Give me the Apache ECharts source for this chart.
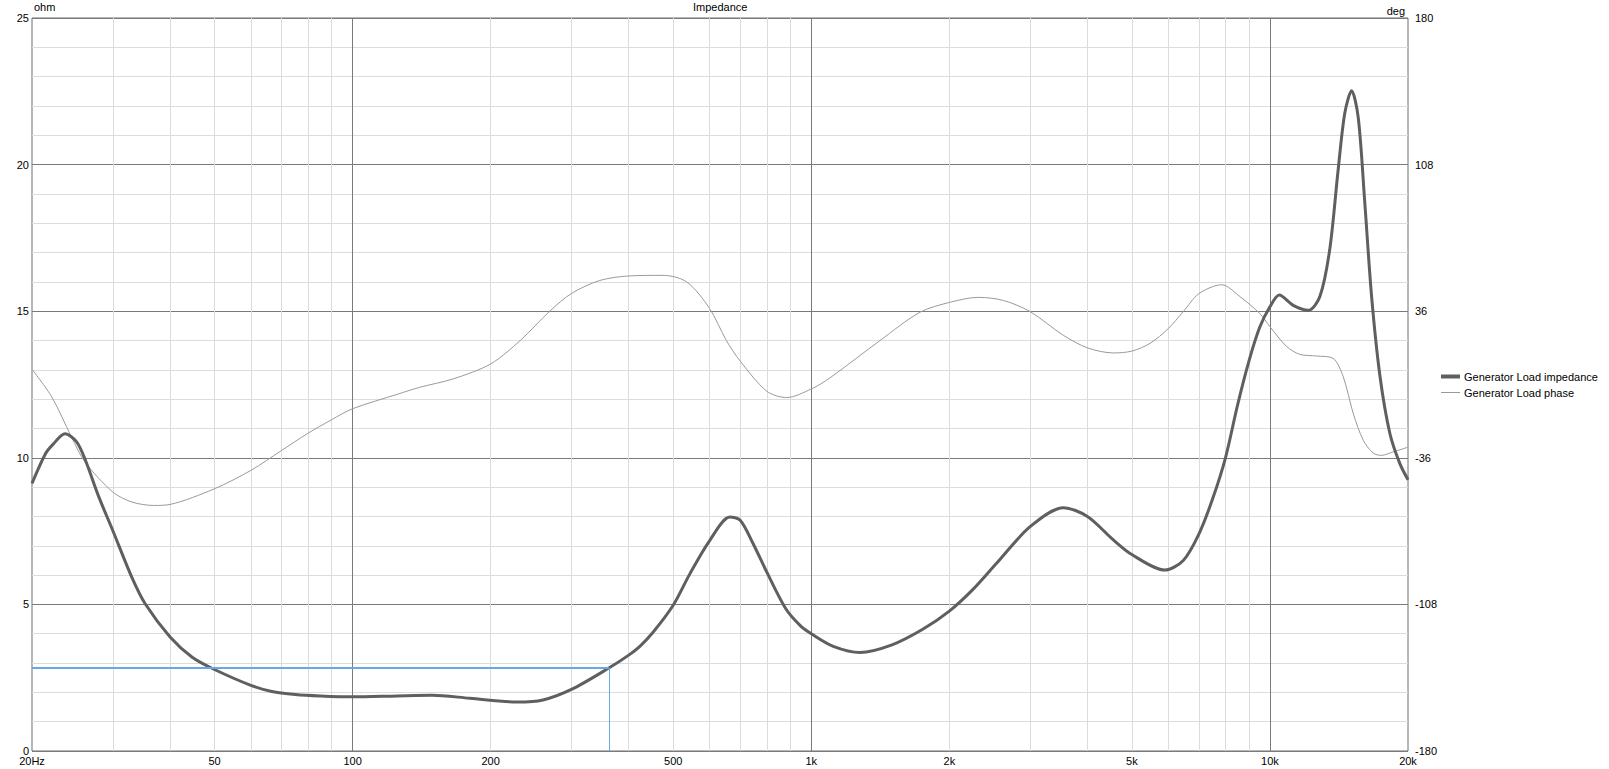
<!DOCTYPE html>
<html><head><meta charset="utf-8">
<script src="https://cdn.jsdelivr.net/npm/echarts@6/dist/echarts.min.js"></script>
<style>html,body{margin:0;padding:0;background:#fff}#c{width:1609px;height:769px}</style>
</head><body><div id="c"></div>
<script>
// Impedance curve (Hz, ohm)
const impFreq = [20, 21.4, 22.2, 23.6, 25, 26.1, 28, 30, 33, 35.3, 40, 44.7, 50, 60, 66.7, 75, 85, 100, 125, 149, 180, 229, 260, 300, 362, 400, 423, 452, 500, 544, 600, 665, 700, 747, 800, 880, 950, 1000, 1117, 1277, 1500, 1750, 2000, 2255, 2535, 3000, 3543, 4000, 4556, 5000, 5900, 6472, 7000, 7500, 8000, 8500, 9000, 9500, 10000, 10480, 11240, 12120, 12850, 13500, 14080, 14560, 15070, 15580, 16100, 16660, 17370, 18260, 19200, 20000];
const impOhm  = [9.13, 10.14, 10.45, 10.82, 10.55, 9.95, 8.65, 7.52, 5.93, 5.02, 3.89, 3.2, 2.78, 2.24, 2.03, 1.93, 1.88, 1.85, 1.88, 1.9, 1.8, 1.67, 1.74, 2.1, 2.83, 3.27, 3.57, 4.05, 4.97, 6.05, 7.17, 7.98, 7.87, 7.07, 6.1, 4.85, 4.25, 4.0, 3.57, 3.36, 3.62, 4.15, 4.77, 5.52, 6.4, 7.65, 8.3, 8.0, 7.2, 6.7, 6.17, 6.5, 7.4, 8.6, 10.0, 11.8, 13.3, 14.45, 15.15, 15.55, 15.2, 15.03, 15.5, 17.1, 19.8, 21.75, 22.52, 21.6, 18.7, 15.5, 12.8, 10.83, 9.8, 9.25];

// Phase curve (Hz, deg)
const phaseFreq = [20, 22.1, 24.4, 26.1, 30, 33, 36.8, 40, 50, 60, 70, 80, 90, 100, 126, 140, 166, 200, 232, 269, 300, 346, 400, 475, 535, 600, 653, 700, 800, 884, 1000, 1099, 1412, 1726, 2000, 2313, 2622, 3000, 3543, 4000, 4556, 5000, 5476, 6000, 6472, 7000, 7850, 8600, 9510, 10000, 10870, 11620, 12640, 13740, 14450, 15200, 15980, 16800, 17500, 18550, 20000];
const phaseDeg  = [7.5, -6.2, -25.9, -38.1, -52.8, -57.7, -59.4, -58.9, -51.2, -42.2, -32.4, -23.9, -17.3, -11.9, -4.6, -1.4, 2.8, 10.1, 21.6, 36, 44.7, 51.1, 53.3, 53.6, 50.4, 37.4, 21.6, 11.5, -3.3, -6.4, -2.2, 3.3, 21.6, 35.5, 40.3, 42.8, 41.3, 35.8, 24.2, 18, 15.5, 16.4, 20.2, 27.4, 35.8, 44.6, 49, 43.2, 34.8, 28.4, 18.7, 14.8, 14, 12.8, 3.8, -14.4, -27.4, -33.7, -34.8, -33.1, -30.8];

// Axis ticks
const xLabelValues = [20, 50, 100, 200, 500, 1000, 2000, 5000, 10000, 20000];
const xMajorGrid = [100, 1000, 10000];
const xMinorGrid = [30, 40, 50, 60, 70, 80, 90, 200, 300, 400, 500, 600, 700, 800, 900, 2000, 3000, 4000, 5000, 6000, 7000, 8000, 9000];

// Blue marker
const markerFreq = 362;
const markerOhm = 2.83;

const seriesNames = ['Generator Load impedance', 'Generator Load phase'];

const impData = impFreq.map((f, i) => [f, impOhm[i]]);
const phaseData = phaseFreq.map((f, i) => [f, phaseDeg[i]]);

function fmtFreq(v) {
  const r = Math.round(v);
  if (r === 20) return '20Hz';
  if (r >= 1000) return (r / 1000) + 'k';
  return String(r);
}

const chart = echarts.init(document.getElementById('c'), null, { renderer: 'svg' });
const font = "'Liberation Sans', Arial, sans-serif";
const option = {
  animation: false,
  textStyle: { fontFamily: font, fontSize: 11, color: '#000' },
  title: {
    text: 'Impedance', left: 693, top: 1, padding: 0,
    textStyle: { fontFamily: font, fontSize: 11, fontWeight: 'normal', color: '#000' }
  },
  legend: {
    orient: 'vertical', left: 1441, top: 371, padding: 0,
    itemWidth: 19, itemHeight: 10, itemGap: 5,
    data: [
      { name: seriesNames[0], icon: 'path://M0,0 L19,0 L19,4 L0,4 Z' },
      { name: seriesNames[1], icon: 'path://M0,0 L19,0 L19,1 L0,1 Z' }
    ],
    textStyle: { fontFamily: font, fontSize: 11, color: '#000', padding: [0, 0, 0, -1] }
  },
  grid: {
    left: 32, right: 201, top: 18, bottom: 18,
    show: true, borderColor: '#6e6e6e', borderWidth: 1, backgroundColor: '#fff'
  },
  xAxis: [
    {
      type: 'log', logBase: 10, min: 20, max: 20000,
      axisLine: { show: false },
      axisTick: { show: false, customValues: xMajorGrid },
      axisLabel: { customValues: xLabelValues, formatter: fmtFreq, margin: 4, fontSize: 11, color: '#000', fontFamily: font },
      splitLine: { show: true, lineStyle: { color: '#7a7a7a', width: 1 } },
      minorSplitLine: { show: false }
    },
    {
      type: 'log', logBase: 10, min: 20, max: 20000, position: 'bottom',
      axisLine: { show: false },
      axisTick: { show: false, customValues: xMinorGrid },
      axisLabel: { show: false },
      splitLine: { show: true, lineStyle: { color: '#dcdcdc', width: 1 } }
    }
  ],
  yAxis: [
    {
      type: 'value', min: 0, max: 25, interval: 5, position: 'left',
      name: 'ohm', nameLocation: 'end', nameGap: 7,
      nameTextStyle: { align: 'left', verticalAlign: 'middle', fontSize: 11, color: '#000', padding: [0, 0, 0, 2], fontFamily: font },
      axisLine: { show: false }, axisTick: { show: false },
      axisLabel: { margin: 3, fontSize: 11, color: '#000', fontFamily: font, padding: [0, 0, 4, 0] },
      splitLine: { show: true, lineStyle: { color: '#7a7a7a', width: 1 } },
      minorTick: { show: false, splitNumber: 5 },
      minorSplitLine: { show: true, lineStyle: { color: '#dcdcdc', width: 1 } }
    },
    {
      type: 'value', min: -180, max: 180, interval: 72, position: 'right',
      name: 'deg', nameLocation: 'end', nameGap: 7,
      nameTextStyle: { align: 'right', verticalAlign: 'middle', fontSize: 11, color: '#000', padding: [0, 3, 0, 0], fontFamily: font },
      axisLine: { show: false }, axisTick: { show: false },
      axisLabel: { margin: 7, fontSize: 11, color: '#000', fontFamily: font, padding: [0, 0, 3, 0] },
      splitLine: { show: false }
    }
  ],
  series: [
    {
      name: seriesNames[0], type: 'line', xAxisIndex: 0, yAxisIndex: 0,
      data: impData, symbol: 'none', smooth: 0.3, z: 4,
      lineStyle: { color: '#5f5f5f', width: 3 }, itemStyle: { color: '#5f5f5f' },
      markLine: {
        silent: true, symbol: 'none', label: { show: false },
        lineStyle: { color: '#64aae6', type: 'solid', width: 2 },
        emphasis: { disabled: true },
        data: [
          [{ coord: [20, markerOhm], lineStyle: { width: 2 } }, { coord: [markerFreq, markerOhm] }],
          [{ coord: [markerFreq, markerOhm], lineStyle: { width: 1 } }, { coord: [markerFreq, 0] }]
        ]
      }
    },
    {
      name: seriesNames[1], type: 'line', xAxisIndex: 0, yAxisIndex: 1,
      data: phaseData, symbol: 'none', smooth: 0.3, z: 3,
      lineStyle: { color: '#9a9a9a', width: 1 }, itemStyle: { color: '#9a9a9a' }
    }
  ]
};
chart.setOption(option);
</script>
</body></html>
